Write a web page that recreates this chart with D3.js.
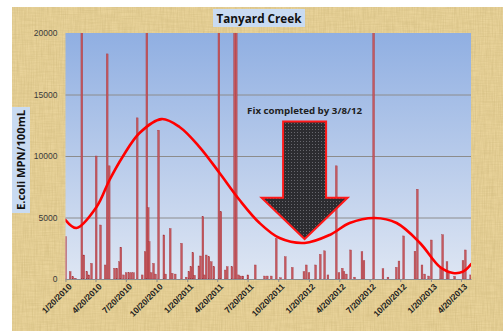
<!DOCTYPE html>
<html>
<head>
<meta charset="utf-8">
<script src="https://cdn.jsdelivr.net/npm/d3@7"></script>
<style>
  body { margin: 0; background: #fff; }
  svg { display: block; }
</style>
</head>
<body>
<script>
// E. coli samples (MPN/100mL); 24196 = above the scale
const sampleDates = [
  "2010-01-20","2010-02-03","2010-02-11","2010-02-19","2010-03-10","2010-03-16","2010-03-25","2010-03-31",
  "2010-04-08","2010-04-22","2010-05-05","2010-05-19","2010-05-25","2010-05-31","2010-06-16","2010-06-23",
  "2010-07-01","2010-07-05","2010-07-13","2010-07-21","2010-07-29","2010-08-05","2010-08-12","2010-08-23",
  "2010-09-07","2010-09-16","2010-09-21","2010-09-25","2010-09-28","2010-10-04","2010-10-11","2010-10-17",
  "2010-10-26","2010-11-11","2010-11-16","2010-11-30","2010-12-06","2010-12-15","2011-01-03","2011-01-17",
  "2011-01-25","2011-01-31","2011-02-06","2011-02-11","2011-02-24","2011-03-01","2011-03-08","2011-03-13",
  "2011-03-18","2011-03-26","2011-04-02","2011-04-10","2011-04-25","2011-05-01","2011-05-14","2011-05-20",
  "2011-06-03","2011-06-11","2011-06-16","2011-06-23","2011-06-29","2011-07-06","2011-07-21","2011-08-12",
  "2011-09-09","2011-09-17","2011-09-29","2011-10-14","2011-10-27","2011-11-10","2011-12-01","2012-01-05",
  "2012-01-12","2012-01-20","2012-02-09","2012-02-23","2012-03-07","2012-03-17","2012-04-11","2012-04-19",
  "2012-04-29","2012-05-04","2012-05-11","2012-05-24","2012-06-05","2012-06-27","2012-07-03","2012-08-01",
  "2012-08-29","2012-09-13","2012-10-08","2012-10-16","2012-10-30","2012-12-03","2012-12-10","2012-12-24",
  "2013-01-01","2013-01-13","2013-01-21","2013-02-18","2013-02-24","2013-03-09","2013-03-13","2013-04-01",
  "2013-04-26","2013-05-03","2013-05-19"
];
const ecoli = [
  3440, 600, 190, 60, 24196, 1950, 600, 330,
  1270, 10000, 4390, 1140, 18300, 9200, 870, 870,
  1400, 2580, 330, 510, 510, 510, 510, 13100,
  330, 2220, 24196, 5800, 3030, 510, 1270, 400,
  12100, 3580, 400, 4100, 460, 400, 2900, 150,
  600, 1000, 2140, 300, 1060, 1870, 5070, 330,
  1950, 1810, 1400, 1000, 24196, 5470, 730, 1000,
  1000, 24196, 24196, 330, 240, 240, 330, 1140,
  240, 240, 240, 3300, 100, 1810, 940, 600,
  1140, 510, 1140, 2000, 2290, 330, 9200, 510,
  870, 600, 400, 2360, 150, 2220, 1490, 24196,
  830, 150, 950, 1460, 3500, 2250, 7300, 1140,
  400, 240, 3170, 950, 3600, 1400, 510, 220,
  1500, 2360, 330
];

// red trend line
const trendDates = [
  "2010-01-20","2010-02-22","2010-04-23","2010-06-01","2010-07-10","2010-08-30","2010-11-04","2010-12-28",
  "2011-02-26","2011-04-27","2011-06-26","2011-08-25","2011-10-24","2012-01-07","2012-03-22","2012-05-21",
  "2012-08-04","2012-10-09","2012-12-18","2013-02-16","2013-03-27","2013-04-26","2013-05-20"
];
const trendValues = [
  4800, 4150, 5850, 8050, 9920, 11870, 13000, 12360,
  10730, 8620, 6420, 4550, 3330, 2930, 3580, 4550,
  4960, 4550, 2930, 980, 490, 600, 1200
];

const tickDates = [
  "2010-01-20","2010-04-20","2010-07-20","2010-10-20","2011-01-20","2011-04-20","2011-07-20",
  "2011-10-20","2012-01-20","2012-04-20","2012-07-20","2012-10-20","2013-01-20","2013-04-20"
];
const yTicks = [0, 5000, 10000, 15000, 20000];

const chartTitle = "Tanyard Creek";
const yTitle = "E.coli MPN/100mL";
const note = "Fix completed by 3/8/12";

const W = 503, H = 331;
const parse = d3.timeParse("%Y-%m-%d");
const fmt = d3.timeFormat("%-m/%-d/%Y");

const plot = { left: 65.5, right: 471, top: 33, bottom: 279 };

const x = d3.scaleTime()
  .domain([parse("2010-01-20"), parse("2013-05-20")])
  .range([plot.left, plot.right]);
const y = d3.scaleLinear()
  .domain([0, 20000])
  .range([plot.bottom, plot.top]);

const svg = d3.select("body").append("svg")
  .attr("width", W)
  .attr("height", H);

const defs = svg.append("defs");

// parchment fibres
function fibres(id, freq, seed) {
  const f = defs.append("filter").attr("id", id)
    .attr("x", 0).attr("y", 0).attr("width", 1).attr("height", 1);
  f.append("feTurbulence")
    .attr("type", "fractalNoise")
    .attr("baseFrequency", freq)
    .attr("numOctaves", 3)
    .attr("seed", seed);
  f.append("feColorMatrix")
    .attr("type", "matrix")
    .attr("values", "0 0 0 0 0.62  0 0 0 0 0.48  0 0 0 0 0.2  0 0 0 1.6 -0.5");
}
fibres("paper", "0.9 0.05", 3);
fibres("paper2", "0.05 0.9", 8);

const grad = defs.append("linearGradient").attr("id", "plotBg")
  .attr("x1", 0).attr("y1", 0).attr("x2", 0).attr("y2", 1);
grad.append("stop").attr("offset", "0%").attr("stop-color", "#90afe2");
grad.append("stop").attr("offset", "100%").attr("stop-color", "#dee6f3");

const pat = defs.append("pattern").attr("id", "mesh")
  .attr("width", 3).attr("height", 3)
  .attr("patternUnits", "userSpaceOnUse");
pat.append("rect").attr("width", 3).attr("height", 3).attr("fill", "#2c2c30");
pat.append("rect").attr("width", 1).attr("height", 1).attr("fill", "#67676d");

defs.append("clipPath").attr("id", "plotClip")
  .append("rect")
  .attr("x", plot.left).attr("y", plot.top)
  .attr("width", plot.right - plot.left)
  .attr("height", plot.bottom - plot.top);

// background
svg.append("rect")
  .attr("x", 12).attr("y", 7).attr("width", W - 12).attr("height", H - 7)
  .attr("fill", "#e9d39a");
svg.append("rect")
  .attr("x", 12).attr("y", 7).attr("width", W - 12).attr("height", H - 7)
  .attr("filter", "url(#paper)")
  .attr("opacity", 0.5);
svg.append("rect")
  .attr("x", 12).attr("y", 7).attr("width", W - 12).attr("height", H - 7)
  .attr("filter", "url(#paper2)")
  .attr("opacity", 0.4);

// plot area
svg.append("rect")
  .attr("x", plot.left).attr("y", plot.top)
  .attr("width", plot.right - plot.left)
  .attr("height", plot.bottom - plot.top)
  .attr("fill", "url(#plotBg)");

// y axis
const yAxis = svg.append("g")
  .attr("class", "y axis")
  .attr("transform", "translate(" + plot.left + ",0)")
  .call(d3.axisLeft(y)
    .tickValues(yTicks)
    .tickSize(-(plot.right - plot.left))
    .tickSizeOuter(0)
    .tickPadding(8)
    .tickFormat(d3.format("d")));
yAxis.select(".domain").remove();
yAxis.selectAll(".tick line")
  .attr("stroke", "#8c8c8c")
  .attr("stroke-width", 1)
  .attr("opacity", d => d === 20000 ? 0 : 1);
yAxis.selectAll(".tick text")
  .attr("font-family", "'Liberation Sans', Arial, sans-serif")
  .attr("font-size", 8.5)
  .attr("fill", "#3a3a3a");

// bars
const data = sampleDates.map((d, i) => ({ date: parse(d), value: ecoli[i] }));
const barW = 1.8;
svg.append("g")
  .attr("clip-path", "url(#plotClip)")
  .selectAll(".bar")
  .data(data)
  .enter().append("rect")
  .attr("class", "bar")
  .attr("x", d => x(d.date) - barW / 2)
  .attr("y", d => y(d.value))
  .attr("width", barW)
  .attr("height", d => y(0) - y(d.value))
  .attr("fill", "#c4595f")
  .attr("stroke", "#a3323a")
  .attr("stroke-width", 0.35);

// x axis
const xAxis = svg.append("g")
  .attr("class", "x axis")
  .attr("transform", "translate(0," + plot.bottom + ")")
  .call(d3.axisBottom(x)
    .tickValues(tickDates.map(parse))
    .tickSize(3)
    .tickSizeOuter(0)
    .tickFormat(fmt));
xAxis.select(".domain")
  .attr("stroke", "#8c8c8c")
  .attr("stroke-width", 1.2);
xAxis.selectAll(".tick line").attr("stroke", "#8c8c8c");
xAxis.selectAll(".tick text")
  .attr("font-family", "'Liberation Sans', Arial, sans-serif")
  .attr("font-weight", "bold")
  .attr("font-size", 8.5)
  .attr("fill", "#1e1e1e")
  .attr("text-anchor", "end")
  .attr("dy", 0)
  .attr("transform", "translate(2,4) rotate(-45)");

// arrow annotation, anchored in data units
const tip = { date: parse("2012-01-07"), value: 3250 };
const headBase = 6600, shaftTop = 12800;
const tx = x(tip.date);
const arrowPts = [
  [tx - 21.5, y(shaftTop)], [tx + 21.5, y(shaftTop)], [tx + 21.5, y(headBase)],
  [tx + 43, y(headBase)], [tx, y(tip.value)], [tx - 43, y(headBase)],
  [tx - 21.5, y(headBase)]
];
svg.append("path")
  .attr("d", "M" + arrowPts.join("L") + "Z")
  .attr("fill", "url(#mesh)")
  .attr("stroke", "#ff1a1a")
  .attr("stroke-width", 2)
  .attr("stroke-linejoin", "miter");

svg.append("text")
  .attr("x", tx)
  .attr("y", y(13400))
  .attr("text-anchor", "middle")
  .attr("font-family", "'Open Sans', sans-serif")
  .attr("font-weight", "bold")
  .attr("font-size", 8.5)
  .attr("textLength", 115)
  .attr("lengthAdjust", "spacingAndGlyphs")
  .attr("fill", "#1e1e1e")
  .text(note);

// trend line
const trend = trendDates.map((d, i) => ({ date: parse(d), value: trendValues[i] }));
svg.append("path")
  .datum(trend)
  .attr("clip-path", "url(#plotClip)")
  .attr("fill", "none")
  .attr("stroke", "#ff0000")
  .attr("stroke-width", 2.6)
  .attr("stroke-linecap", "round")
  .attr("d", d3.line()
    .x(d => x(d.date))
    .y(d => y(d.value))
    .curve(d3.curveCatmullRom.alpha(0.5)));

// title
svg.append("rect")
  .attr("x", 213).attr("y", 9).attr("width", 92).attr("height", 18)
  .attr("fill", "#c9dbf2");
svg.append("text")
  .attr("x", 259).attr("y", 22.5)
  .attr("text-anchor", "middle")
  .attr("font-family", "'Open Sans', sans-serif")
  .attr("font-weight", "bold")
  .attr("font-size", 11.5)
  .attr("textLength", 85)
  .attr("lengthAdjust", "spacingAndGlyphs")
  .attr("fill", "#111")
  .text(chartTitle);

// y title
svg.append("rect")
  .attr("x", 12).attr("y", 107).attr("width", 18).attr("height", 106)
  .attr("fill", "#c9dbf2");
svg.append("text")
  .attr("transform", "translate(25,160) rotate(-90)")
  .attr("text-anchor", "middle")
  .attr("font-family", "'Open Sans', sans-serif")
  .attr("font-weight", "bold")
  .attr("font-size", 10)
  .attr("textLength", 100)
  .attr("lengthAdjust", "spacingAndGlyphs")
  .attr("fill", "#111")
  .text(yTitle);
</script>
</body>
</html>
